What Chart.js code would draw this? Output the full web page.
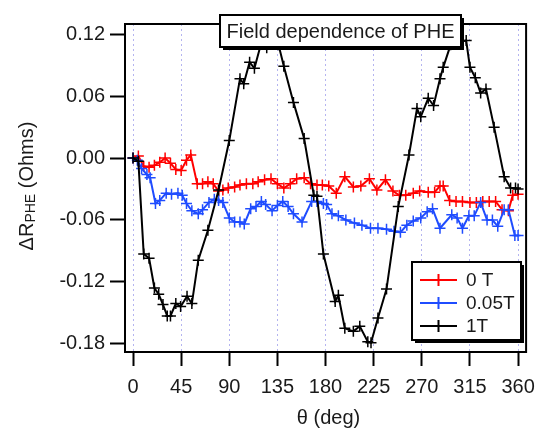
<!DOCTYPE html>
<html>
<head>
<meta charset="utf-8">
<script src="https://cdn.jsdelivr.net/npm/chart.js@4.4.1/dist/chart.umd.min.js"></script>
<style>
  body { margin: 0; background: #fff; }
</style>
</head>
<body>
<canvas id="phe-chart" width="544" height="428"></canvas>
<script>
// tick positions
const xTicks = [0, 45, 90, 135, 180, 225, 270, 315, 360];
const yTicks = [-0.18, -0.12, -0.06, 0, 0.06, 0.12];

// 0 T
const redAngles = [0, 5, 10, 15, 20, 25, 30, 35, 40, 45, 50, 54, 60, 65, 70, 75, 80, 84, 89, 95,
  100, 106, 112, 117, 123, 129, 135, 141, 147, 153, 160, 166, 172, 177, 183, 190, 198, 206, 213,
  221, 228, 236, 243, 249, 255, 262, 268, 276, 282, 287, 290, 296, 302, 308, 315, 321, 327, 333,
  339, 345, 351, 355, 360];
const redValues = [0.000, 0.002, -0.008, -0.009, -0.007, -0.004, 0.000, -0.005, -0.011, -0.012,
  -0.002, 0.003, -0.025, -0.025, -0.023, -0.025, -0.032, -0.031, -0.029, -0.028, -0.026, -0.025,
  -0.025, -0.023, -0.021, -0.020, -0.025, -0.029, -0.025, -0.020, -0.019, -0.025, -0.026, -0.026,
  -0.027, -0.034, -0.018, -0.028, -0.027, -0.020, -0.031, -0.021, -0.032, -0.036, -0.036, -0.034,
  -0.032, -0.033, -0.033, -0.027, -0.027, -0.041, -0.042, -0.042, -0.043, -0.043, -0.042, -0.042,
  -0.042, -0.050, -0.051, -0.036, -0.035];

// 0.05T
const blueAngles = [0, 4, 8, 13, 16, 21, 25, 31, 36, 42, 46, 50, 55, 61, 65, 71, 76, 80, 84, 90,
  95, 100, 104, 110, 115, 120, 124, 130, 135, 140, 145, 150, 158, 167, 172, 178, 181, 186, 192,
  199, 207, 214, 222, 229, 237, 244, 250, 256, 262, 269, 275, 280, 287, 298, 303, 308, 314, 319,
  325, 331, 336, 341, 347, 351, 357, 360];
const blueValues = [0.000, -0.002, -0.010, -0.016, -0.019, -0.044, -0.041, -0.034, -0.035, -0.034,
  -0.036, -0.044, -0.051, -0.054, -0.050, -0.043, -0.040, -0.041, -0.043, -0.058, -0.062, -0.062,
  -0.064, -0.049, -0.047, -0.042, -0.045, -0.051, -0.046, -0.042, -0.047, -0.054, -0.062, -0.042,
  -0.042, -0.044, -0.045, -0.054, -0.056, -0.060, -0.063, -0.065, -0.068, -0.068, -0.069, -0.071,
  -0.072, -0.065, -0.061, -0.058, -0.052, -0.049, -0.068, -0.055, -0.058, -0.068, -0.056, -0.056,
  -0.043, -0.060, -0.060, -0.066, -0.050, -0.050, -0.075, -0.075];

// 1T
const blackAngles = [0, 5, 10, 15, 20, 24, 28, 32, 35, 40, 44.5, 50.5, 55, 61, 70, 80, 90, 100,
  103.5, 109, 113.5, 120, 125, 131, 136, 141, 150, 160, 169, 172, 178, 189, 192, 198, 206, 212,
  219.5, 222.5, 229, 237, 248, 258, 265.5, 269, 276, 281, 287, 290, 297, 303, 311.5, 315, 320,
  325, 330, 337.6, 347, 353, 357.6, 360];
const blackValues = [0.000, -0.003, -0.093, -0.097, -0.126, -0.132, -0.142, -0.153, -0.153, -0.141,
  -0.144, -0.134, -0.141, -0.099, -0.070, -0.031, 0.017, 0.077, 0.072, 0.093, 0.087, 0.112, 0.107,
  0.118, 0.110, 0.089, 0.054, 0.019, -0.036, -0.037, -0.093, -0.139, -0.133, -0.165, -0.168,
  -0.163, -0.178, -0.179, -0.155, -0.127, -0.047, 0.003, 0.048, 0.040, 0.058, 0.051, 0.077, 0.088,
  0.110, 0.112, 0.114, 0.088, 0.078, 0.063, 0.067, 0.030, -0.018, -0.029, -0.029, -0.030];

const seriesNames = ['0 T', '0.05T', '1T'];
const seriesColors = ['#ff0000', '#1f4cff', '#000000'];

const FONT = '"Liberation Sans", Arial, sans-serif';

function toPoints(xs, ys) {
    return xs.map((x, i) => ({ x: x, y: ys[i] }));
}

function makeSet(i, xs, ys, order) {
    return {
        label: seriesNames[i],
        data: toPoints(xs, ys),
        borderColor: seriesColors[i],
        backgroundColor: seriesColors[i],
        borderWidth: 2,
        pointStyle: 'cross',
        pointRadius: 5.5,
        pointBorderWidth: 1.5,
        showLine: true,
        tension: 0,
        order: order
    };
}

// frame, boxed title, boxed legend, axis titles
const decorPlugin = {
    id: 'decor',
    afterDatasetsDraw(chart) {
        const { ctx, chartArea: a } = chart;
        ctx.save();
        ctx.strokeStyle = '#000';
        ctx.lineWidth = 2;
        ctx.strokeRect(a.left, a.top, a.right - a.left, a.bottom - a.top);
        ctx.restore();
    },
    afterDraw(chart) {
        const ctx = chart.ctx;

        function shadowBox(x, y, w, h) {
            ctx.fillStyle = '#000';
            ctx.fillRect(x + 3, y + 3, w, h);
            ctx.fillStyle = '#fff';
            ctx.fillRect(x, y, w, h);
            ctx.strokeStyle = '#000';
            ctx.lineWidth = 2;
            ctx.strokeRect(x, y, w, h);
        }

        ctx.save();
        // title
        shadowBox(220, 15, 241, 32);
        ctx.fillStyle = '#1a1a1a';
        ctx.font = '20px ' + FONT;
        ctx.textAlign = 'center';
        ctx.textBaseline = 'middle';
        ctx.fillText('Field dependence of PHE', 340.5, 32);

        // legend
        shadowBox(412, 262, 109, 78);
        ctx.font = '19px ' + FONT;
        ctx.textAlign = 'left';
        const rows = [280, 303, 326];
        rows.forEach((ry, i) => {
            ctx.strokeStyle = seriesColors[i];
            ctx.lineWidth = 2;
            ctx.beginPath();
            ctx.moveTo(420, ry);
            ctx.lineTo(457, ry);
            ctx.moveTo(438.5, ry - 6);
            ctx.lineTo(438.5, ry + 6);
            ctx.stroke();
            ctx.fillStyle = '#1a1a1a';
            ctx.fillText(seriesNames[i], 466, ry + 1);
        });

        // x axis title
        ctx.font = '20px ' + FONT;
        ctx.textAlign = 'center';
        ctx.fillText('θ (deg)', 328.5, 418);

        // y axis title with subscript
        ctx.translate(27, 186);
        ctx.rotate(-Math.PI / 2);
        const big = '20px ' + FONT, small = '14px ' + FONT;
        ctx.font = big;
        const w1 = ctx.measureText('ΔR').width;
        const w3 = ctx.measureText(' (Ohms)').width;
        ctx.font = small;
        const w2 = ctx.measureText('PHE').width;
        let x0 = -(w1 + w2 + w3) / 2;
        ctx.textAlign = 'left';
        ctx.font = big;
        ctx.fillText('ΔR', x0, 0);
        ctx.font = small;
        ctx.fillText('PHE', x0 + w1, 4);
        ctx.font = big;
        ctx.fillText(' (Ohms)', x0 + w1 + w2, 0);
        ctx.restore();
    }
};

const ctx = document.getElementById('phe-chart').getContext('2d');

const pheChart = new Chart(ctx, {
    type: 'scatter',
    data: {
        datasets: [
            makeSet(0, redAngles, redValues, 2),
            makeSet(1, blueAngles, blueValues, 1),
            makeSet(2, blackAngles, blackValues, 0)
        ]
    },
    options: {
        responsive: false,
        animation: false,
        layout: { padding: { top: 24, right: 12, left: 0, bottom: 0 } },
        plugins: {
            legend: { display: false },
            tooltip: { enabled: false }
        },
        scales: {
            x: {
                type: 'linear',
                min: -7.5,
                max: 367.5,
                afterBuildTicks: (scale) => { scale.ticks = xTicks.map(v => ({ value: v })); },
                afterFit: (scale) => { scale.height = 76; },
                ticks: {
                    color: '#1a1a1a',
                    font: { family: FONT, size: 20 },
                    padding: 9,
                    maxRotation: 0,
                    autoSkip: false
                },
                grid: {
                    color: '#b4b4f0',
                    lineWidth: 1,
                    tickColor: '#000',
                    tickWidth: 2,
                    tickLength: 14
                },
                border: { display: false, dash: [2, 3] }
            },
            y: {
                type: 'linear',
                min: -0.188,
                max: 0.13,
                afterBuildTicks: (scale) => { scale.ticks = yTicks.map(v => ({ value: v })); },
                afterFit: (scale) => { scale.width = 125; },
                ticks: {
                    color: '#1a1a1a',
                    font: { family: FONT, size: 20 },
                    padding: 5,
                    callback: (v) => v.toFixed(2)
                },
                grid: {
                    drawOnChartArea: false,
                    tickColor: '#000',
                    tickWidth: 2,
                    tickLength: 15
                },
                border: { display: false }
            }
        }
    },
    plugins: [decorPlugin]
});
</script>
</body>
</html>
